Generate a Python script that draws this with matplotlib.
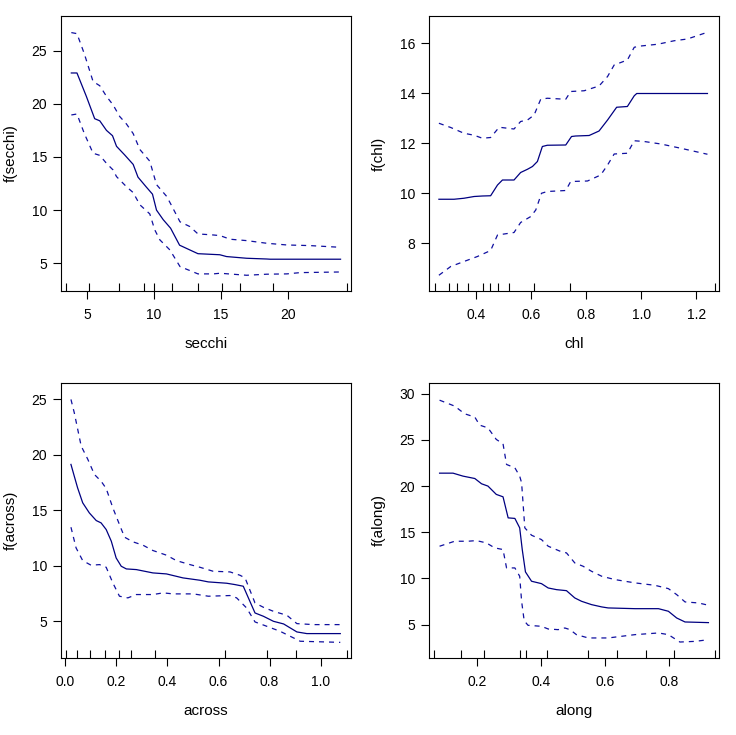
import matplotlib
matplotlib.use("Agg")
import matplotlib.pyplot as plt

plt.rcParams['font.family'] = ['Liberation Sans', 'DejaVu Sans']

# ---------------- data ----------------
# secchi
secchi_fit_x = [3.83, 4.25, 4.95, 5.57, 5.95, 6.45, 6.9, 7.2, 7.8, 8.44, 8.8, 9.4, 9.88, 10.18, 10.68, 11.23, 11.9, 12.67, 13.27, 14.9, 15.4, 16.9, 18.4, 18.65, 23.9]
secchi_fit_y = [22.9, 22.9, 20.7, 18.6, 18.4, 17.5, 17.0, 16.0, 15.2, 14.3, 13.1, 12.2, 11.5, 10.0, 9.1, 8.3, 6.7, 6.25, 5.9, 5.8, 5.63, 5.47, 5.4, 5.38, 5.38]
secchi_up_x = [3.83, 4.25, 4.8, 5.45, 5.95, 6.45, 6.94, 7.44, 7.94, 8.44, 8.94, 9.68, 10.18, 10.93, 11.23, 11.93, 12.67, 13.27, 14.42, 14.92, 15.67, 16.9, 18.4, 19.9, 21.65, 22.9, 23.9]
secchi_up_y = [26.7, 26.6, 24.7, 22.1, 21.7, 20.7, 19.9, 18.8, 18.1, 17.2, 15.7, 14.6, 12.4, 11.3, 10.6, 8.9, 8.45, 7.76, 7.66, 7.6, 7.26, 7.13, 6.88, 6.72, 6.66, 6.57, 6.5]
secchi_lo_x = [3.83, 4.25, 4.8, 5.45, 5.95, 6.45, 6.94, 7.2, 7.94, 8.44, 8.94, 9.68, 10.05, 10.43, 11.18, 11.93, 12.67, 13.27, 14.42, 14.92, 16.9, 18.4, 19.9, 20.9, 23.9]
secchi_lo_y = [18.95, 19.04, 17.2, 15.35, 15.15, 14.4, 13.78, 13.15, 12.2, 11.65, 10.5, 9.64, 8.14, 7.2, 6.25, 4.69, 4.31, 4.0, 4.0, 4.06, 3.87, 3.97, 4.0, 4.12, 4.18]
secchi_rug = [3.46, 5.18, 7.39, 9.25, 9.96, 11.34, 13.24, 15.03, 16.42, 18.88, 24.36]
secchi_ticks = [5, 10, 15, 20]
secchi_yticks = [5, 10, 15, 20, 25]

# chl
chl_fit_x = [0.265, 0.32, 0.356, 0.393, 0.423, 0.453, 0.478, 0.496, 0.538, 0.562, 0.587, 0.605, 0.623, 0.641, 0.659, 0.726, 0.747, 0.762, 0.811, 0.847, 0.878, 0.911, 0.95, 0.975, 0.984, 1.241]
chl_fit_y = [9.76, 9.76, 9.8, 9.87, 9.89, 9.9, 10.33, 10.53, 10.53, 10.83, 10.96, 11.07, 11.27, 11.87, 11.92, 11.93, 12.27, 12.29, 12.31, 12.49, 12.93, 13.44, 13.47, 13.9, 13.99, 13.99]
chl_up_x = [0.265, 0.308, 0.356, 0.393, 0.423, 0.453, 0.484, 0.538, 0.562, 0.587, 0.611, 0.635, 0.659, 0.726, 0.744, 0.793, 0.847, 0.878, 0.902, 0.95, 0.975, 0.999, 1.06, 1.12, 1.168, 1.241]
chl_up_y = [12.8, 12.63, 12.4, 12.32, 12.2, 12.23, 12.64, 12.57, 12.87, 12.93, 13.13, 13.76, 13.8, 13.76, 14.07, 14.1, 14.29, 14.67, 15.13, 15.33, 15.84, 15.89, 15.96, 16.1, 16.17, 16.44]
chl_lo_x = [0.265, 0.308, 0.356, 0.405, 0.453, 0.478, 0.538, 0.562, 0.599, 0.617, 0.638, 0.659, 0.726, 0.744, 0.805, 0.853, 0.878, 0.902, 0.95, 0.975, 1.011, 1.072, 1.144, 1.241]
chl_lo_y = [6.72, 7.07, 7.27, 7.47, 7.71, 8.33, 8.43, 8.83, 9.07, 9.33, 10.0, 10.07, 10.11, 10.47, 10.49, 10.73, 11.13, 11.57, 11.6, 12.1, 12.07, 11.97, 11.8, 11.56]
chl_rug = [0.249, 0.300, 0.331, 0.371, 0.427, 0.450, 0.478, 0.519, 0.611, 0.742, 1.267]
chl_ticks = [0.4, 0.6, 0.8, 1.0, 1.2]
chl_yticks = [8, 10, 12, 14, 16]

# across
across_fit_x = [0.022, 0.035, 0.048, 0.068, 0.094, 0.121, 0.14, 0.16, 0.18, 0.199, 0.219, 0.239, 0.278, 0.343, 0.396, 0.461, 0.527, 0.56, 0.632, 0.664, 0.697, 0.717, 0.743, 0.776, 0.815, 0.855, 0.881, 0.907, 0.946, 1.077]
across_fit_y = [19.14, 18.08, 17.03, 15.68, 14.77, 14.08, 13.87, 13.27, 12.22, 10.71, 9.96, 9.72, 9.66, 9.36, 9.27, 8.91, 8.7, 8.55, 8.43, 8.31, 8.16, 7.11, 5.75, 5.45, 5.0, 4.76, 4.4, 4.04, 3.89, 3.89]
across_up_x = [0.022, 0.035, 0.062, 0.088, 0.114, 0.14, 0.16, 0.186, 0.212, 0.232, 0.265, 0.304, 0.343, 0.396, 0.435, 0.488, 0.527, 0.579, 0.645, 0.684, 0.704, 0.743, 0.776, 0.815, 0.868, 0.907, 0.972, 1.077]
across_up_y = [25.0, 23.8, 20.8, 19.6, 18.23, 17.63, 16.97, 15.23, 13.72, 12.58, 12.16, 11.86, 11.38, 10.96, 10.47, 10.11, 9.87, 9.51, 9.45, 9.15, 8.91, 6.65, 6.26, 5.9, 5.54, 4.79, 4.7, 4.7]
across_lo_x = [0.022, 0.042, 0.068, 0.101, 0.134, 0.16, 0.186, 0.212, 0.245, 0.278, 0.343, 0.383, 0.422, 0.501, 0.56, 0.645, 0.671, 0.71, 0.743, 0.789, 0.841, 0.894, 0.92, 1.077]
across_lo_y = [13.48, 11.62, 10.47, 10.05, 10.11, 9.87, 8.46, 7.26, 7.11, 7.41, 7.41, 7.56, 7.47, 7.47, 7.26, 7.32, 7.11, 6.2, 4.94, 4.55, 4.1, 3.5, 3.2, 3.1]
across_rug = [0.004, 0.046, 0.098, 0.157, 0.210, 0.259, 0.353, 0.624, 0.790, 0.904, 1.102]
across_ticks = [0.0, 0.2, 0.4, 0.6, 0.8, 1.0]
across_yticks = [5, 10, 15, 20, 25]

# along
along_fit_x = [0.083, 0.125, 0.156, 0.193, 0.214, 0.234, 0.26, 0.281, 0.297, 0.318, 0.333, 0.341, 0.351, 0.37, 0.401, 0.422, 0.448, 0.479, 0.505, 0.526, 0.557, 0.589, 0.609, 0.693, 0.766, 0.797, 0.823, 0.849, 0.922]
along_fit_y = [21.4, 21.4, 21.08, 20.82, 20.25, 20.0, 19.1, 18.84, 16.56, 16.5, 15.48, 13.13, 10.71, 9.7, 9.44, 8.97, 8.79, 8.68, 7.89, 7.53, 7.17, 6.92, 6.81, 6.73, 6.73, 6.45, 5.72, 5.29, 5.22]
along_up_x = [0.083, 0.13, 0.161, 0.193, 0.208, 0.234, 0.26, 0.281, 0.292, 0.318, 0.333, 0.339, 0.349, 0.37, 0.401, 0.422, 0.464, 0.479, 0.505, 0.531, 0.557, 0.589, 0.63, 0.693, 0.755, 0.797, 0.823, 0.849, 0.891, 0.922]
along_up_y = [29.3, 28.66, 27.83, 27.47, 26.6, 26.3, 25.05, 24.58, 22.34, 21.98, 21.08, 20.35, 15.48, 14.68, 14.21, 13.49, 12.88, 12.77, 11.68, 11.32, 10.78, 10.24, 9.88, 9.52, 9.26, 8.9, 8.25, 7.46, 7.35, 7.1]
along_lo_x = [0.083, 0.13, 0.172, 0.198, 0.229, 0.255, 0.281, 0.292, 0.318, 0.333, 0.339, 0.347, 0.359, 0.401, 0.422, 0.453, 0.474, 0.49, 0.51, 0.547, 0.609, 0.651, 0.693, 0.734, 0.766, 0.797, 0.833, 0.88, 0.922]
along_lo_y = [13.49, 14.03, 14.03, 14.1, 13.85, 13.31, 13.13, 11.14, 11.14, 10.24, 7.53, 5.43, 4.93, 4.82, 4.53, 4.46, 4.64, 4.46, 3.92, 3.56, 3.56, 3.74, 3.92, 4.02, 4.1, 3.92, 3.12, 3.19, 3.37]
along_rug = [0.067, 0.151, 0.222, 0.335, 0.354, 0.419, 0.547, 0.638, 0.727, 0.816, 0.943]
along_ticks = [0.2, 0.4, 0.6, 0.8]
along_yticks = [5, 10, 15, 20, 25, 30]

panels = [
    dict(name="secchi", fx=secchi_fit_x, fy=secchi_fit_y, ux=secchi_up_x, uy=secchi_up_y,
         lx=secchi_lo_x, ly=secchi_lo_y, rug=secchi_rug, xt=secchi_ticks, yt=secchi_yticks,
         xl=(3.06, 24.68), yl=(2.39, 28.26), fmt="{:g}"),
    dict(name="chl", fx=chl_fit_x, fy=chl_fit_y, ux=chl_up_x, uy=chl_up_y,
         lx=chl_lo_x, ly=chl_lo_y, rug=chl_rug, xt=chl_ticks, yt=chl_yticks,
         xl=(0.229, 1.283), yl=(6.09, 17.09), fmt="{:.1f}"),
    dict(name="across", fx=across_fit_x, fy=across_fit_y, ux=across_up_x, uy=across_up_y,
         lx=across_lo_x, ly=across_lo_y, rug=across_rug, xt=across_ticks, yt=across_yticks,
         xl=(-0.017, 1.119), yl=(1.69, 26.48), fmt="{:.1f}"),
    dict(name="along", fx=along_fit_x, fy=along_fit_y, ux=along_up_x, uy=along_up_y,
         lx=along_lo_x, ly=along_lo_y, rug=along_rug, xt=along_ticks, yt=along_yticks,
         xl=(0.05, 0.955), yl=(1.39, 31.16), fmt="{:.1f}"),
]

W, H = 736, 735
fig = plt.figure(figsize=(W / 100, H / 100), dpi=100)
boxes = [(61, 16, 351, 291), (429, 16, 719, 291), (61, 383, 351, 658), (429, 383, 719, 658)]

solid_col = "#000080"
dash_col = "#1010a0"

for p, (x0, y0, x1, y1) in zip(panels, boxes):
    ax = fig.add_axes([x0 / W, 1 - y1 / H, (x1 - x0) / W, (y1 - y0) / H])
    ax.plot(p["fx"], p["fy"], color=solid_col, lw=0.9)
    ax.plot(p["ux"], p["uy"], color=dash_col, lw=0.9, dashes=(4, 4))
    ax.plot(p["lx"], p["ly"], color=dash_col, lw=0.9, dashes=(4, 4))
    ax.vlines(p["rug"], 0, 8 / (y1 - y0), transform=ax.get_xaxis_transform(),
              color="black", lw=0.8)
    ax.set_xlim(*p["xl"])
    ax.set_ylim(*p["yl"])
    ax.set_xticks(p["xt"])
    ax.set_xticklabels([p["fmt"].format(v) for v in p["xt"]])
    ax.set_yticks(p["yt"])
    ax.set_yticklabels([str(v) for v in p["yt"]])
    ax.tick_params(direction="out", length=6, width=0.8, labelsize=10, pad=4)
    ax.tick_params(axis="x", pad=6)
    for s in ax.spines.values():
        s.set_linewidth(0.8)
    ax.set_xlabel(p["name"], fontsize=11, labelpad=11)
    ax.set_ylabel(f"f({p['name']})", fontsize=11, labelpad=10)

fig.savefig("out.png", dpi=100)
